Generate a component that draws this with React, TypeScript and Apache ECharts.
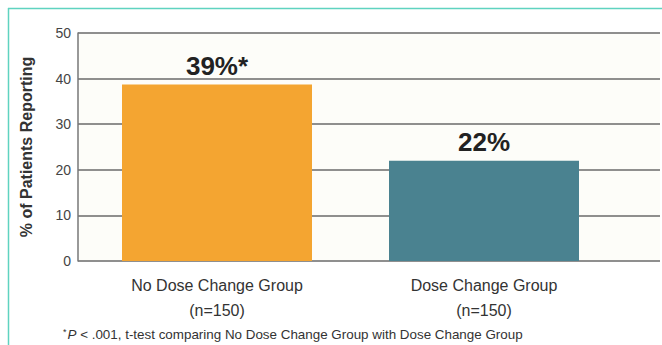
import React, { useEffect, useRef } from "react";
import * as echarts from "echarts";

const categories = ["No Dose Change Group\n(n=150)", "Dose Change Group\n(n=150)"];
const values = [38.7, 22];
const valueLabels = ["39%*", "22%"];
const barColors = ["#F4A531", "#4A8290"];
const yTicks = { min: 0, max: 50, interval: 10 };
const yAxisTitle = "% of Patients Reporting";
const footnoteItalic = "P";
const footnoteRest = " < .001, t-test comparing No Dose Change Group with Dose Change Group";

export default function App() {
  const ref = useRef<HTMLDivElement>(null);
  useEffect(() => {
    if (!ref.current) return;
    const chart = echarts.init(ref.current, null, { renderer: "svg" });
    const font = "'Liberation Sans', Arial, sans-serif";
    chart.setOption({
      animation: false,
      backgroundColor: "#ffffff",
      textStyle: { fontFamily: font },
      title: {
        left: 58,
        top: 322,
        text: "{sup|*}{it|" + footnoteItalic + "}{n|" + footnoteRest + "}",
        textStyle: {
          fontWeight: "normal",
          rich: {
            sup: { fontSize: 9, color: "#333", fontWeight: "normal", verticalAlign: "top", padding: [0, 1, 6, 0], fontFamily: font },
            it: { fontSize: 13.4, color: "#333", fontWeight: "normal", fontStyle: "italic", fontFamily: font },
            n: { fontSize: 13.4, color: "#333", fontWeight: "normal", fontFamily: font },
          },
        },
      },
      graphic: [
        { type: "line", shape: { x1: 8.5, y1: 8, x2: 8.5, y2: 345 }, style: { stroke: "#5FD3C0", lineWidth: 1.5 } },
        { type: "line", shape: { x1: 8, y1: 8.5, x2: 662, y2: 8.5 }, style: { stroke: "#5FD3C0", lineWidth: 1.5 } },
      ],
      grid: [
        { left: 78, right: 2, top: 33, bottom: 84, show: true, backgroundColor: "#FDFDF9", borderWidth: 0 },
        { left: 83.5, right: 44.5, top: 33, bottom: 84 },
      ],
      xAxis: [
        { gridIndex: 0, type: "category", data: ["a"], show: false },
        {
          gridIndex: 1,
          type: "category",
          data: categories,
          axisLine: { show: false },
          axisTick: { show: false },
          axisLabel: { color: "#333", fontSize: 16, lineHeight: 25, margin: 12, fontFamily: font },
        },
      ],
      yAxis: [
        {
          gridIndex: 0,
          type: "value",
          min: yTicks.min,
          max: yTicks.max,
          interval: yTicks.interval,
          name: yAxisTitle,
          nameLocation: "middle",
          nameGap: 44,
          nameRotate: 90,
          nameTextStyle: { fontSize: 16, fontWeight: "bold", color: "#333", fontFamily: font },
          axisLine: { show: true, lineStyle: { color: "#777", width: 1.5 } },
          axisTick: { show: false },
          axisLabel: { color: "#444", fontSize: 14, margin: 7, fontFamily: font },
          splitLine: { show: true, lineStyle: { color: "#6A6A6A", width: 1.5 } },
        },
        { gridIndex: 1, type: "value", min: yTicks.min, max: yTicks.max, interval: yTicks.interval, show: false },
      ],
      series: [
        {
          type: "bar",
          xAxisIndex: 1,
          yAxisIndex: 1,
          barWidth: 190,
          data: values.map((v, i) => ({
            value: v,
            itemStyle: { color: barColors[i] },
            label: {
              show: true,
              position: "top",
              distance: 6,
              formatter: valueLabels[i],
              fontSize: 26,
              fontWeight: "bold",
              color: "#222",
              fontFamily: font,
            },
          })),
        },
      ],
    });
    return () => chart.dispose();
  }, []);
  return (
    <div
      ref={ref}
      style={{ position: "fixed", left: 0, top: 0, width: 662, height: 345 }}
    />
  );
}
